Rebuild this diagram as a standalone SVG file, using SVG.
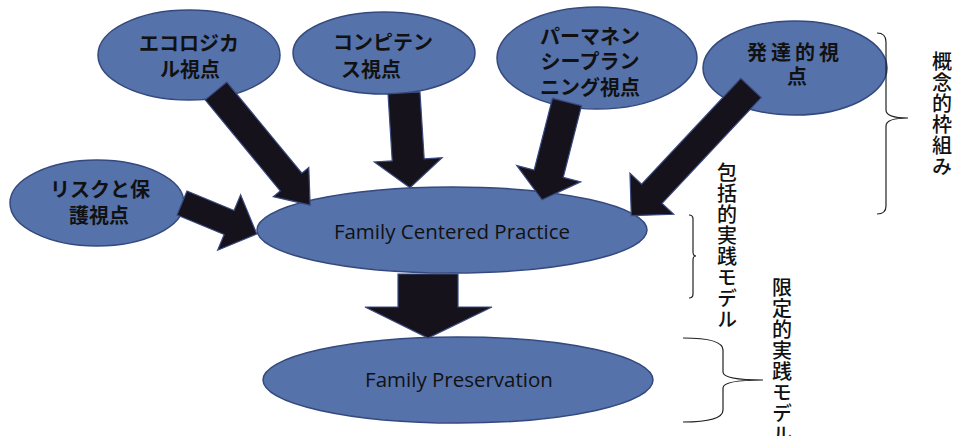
<svg xmlns="http://www.w3.org/2000/svg" width="955" height="436" viewBox="0 0 955 436">
  <style>
    .node { fill: #5672aa; stroke: #34497e; stroke-width: 1.5; }
    .jp { font-family: "Noto Sans CJK JP", "Noto Sans", sans-serif; font-size: 20px; font-weight: 700; fill: #111; text-anchor: middle; }
    .en { font-family: "Open Sans", "Liberation Sans", sans-serif; font-size: 20.5px; fill: #111; text-anchor: middle; }
    .arrow { fill: #15121c; stroke: #3a4a80; stroke-width: 1.2; stroke-linejoin: miter; }
    .brace { fill: none; stroke: #222; stroke-width: 1.2; }
    .vlabel { font-family: "Noto Sans CJK JP", "Noto Sans", sans-serif; font-size: 20px; font-weight: 500; fill: #111; writing-mode: vertical-rl; letter-spacing: 1px; }
  </style>

  <!-- nodes -->
  <g id="ecological">
    <ellipse class="node" cx="189" cy="55" rx="91" ry="45"/>
    <text class="jp" x="189" y="51">エコロジカ</text>
    <text class="jp" x="190" y="77">ル視点</text>
  </g>
  <g id="competence">
    <ellipse class="node" cx="384" cy="53" rx="91" ry="41"/>
    <text class="jp" x="383" y="50">コンピテン</text>
    <text class="jp" x="371" y="77">ス視点</text>
  </g>
  <g id="permanency">
    <ellipse class="node" cx="597" cy="58" rx="100" ry="51"/>
    <text class="jp" x="590" y="44">パーマネン</text>
    <text class="jp" x="590" y="69">シープラン</text>
    <text class="jp" x="590" y="95">ニング視点</text>
  </g>
  <g id="developmental">
    <ellipse class="node" cx="795" cy="68" rx="92" ry="47"/>
    <text class="jp" x="795" y="60" letter-spacing="4">発達的視</text>
    <text class="jp" x="797" y="84">点</text>
  </g>
  <g id="risk">
    <ellipse class="node" cx="97" cy="203" rx="87" ry="43"/>
    <text class="jp" x="100" y="197">リスクと保</text>
    <text class="jp" x="99" y="223">護視点</text>
  </g>
  <g id="fcp">
    <ellipse class="node" cx="452" cy="230" rx="195" ry="43"/>
    <text class="en" x="452" y="239">Family Centered Practice</text>
  </g>
  <g id="fp">
    <ellipse class="node" cx="458" cy="380" rx="195" ry="43"/>
    <text class="en" x="459" y="387">Family Preservation</text>
  </g>

  <!-- connectors: block arrows, drawn tail at origin pointing along +x -->
  <g id="connectors">
    <path class="arrow" transform="translate(216,91) rotate(50.5)" d="M0,-14 H118 V-23 L148,0 L118,23 V14 H0 Z"/>
    <path class="arrow" transform="translate(404,93) rotate(86.4)" d="M0,-16 H67 V-34 L95,0 L67,34 V16 H0 Z"/>
    <path class="arrow" transform="translate(567,102) rotate(104.3)" d="M0,-15 H74 V-33 L101,0 L74,33 V15 H0 Z"/>
    <path class="arrow" transform="translate(751,88) rotate(133.15)" d="M0,-14 H145 V-30 L175,0 L145,30 V14 H0 Z"/>
    <path class="arrow" transform="translate(182,203) rotate(22.5)" d="M0,-13 H51 V-30 L81,0 L51,30 V13 H0 Z"/>
    <path class="arrow" d="M398,274 H458 V307 H492 L428,338 L365,307 H398 Z"/>
  </g>

  <!-- braces and side labels -->
  <g id="framework">
    <path class="brace" d="M877,33 Q886,33 886,42 L886,110 Q886,118 908,118 Q886,118 886,126 L886,206 Q886,214 877,214"/>
    <text class="vlabel" x="942" y="51">概念的枠組み</text>
  </g>
  <g id="comprehensive">
    <path class="brace" d="M689,215 Q693,215 693,219 L693,252 Q693,256 696,256 Q693,256 693,260 L693,294 Q693,298 689,298"/>
    <text class="vlabel" x="727" y="162">包括的実践モデル</text>
  </g>
  <g id="limited">
    <path class="brace" d="M683,338 Q723,338 723,350 L723,372 Q723,380 763,380 Q723,380 723,388 L723,410 Q723,422 683,422"/>
    <text class="vlabel" x="782" y="277">限定的実践モデル</text>
  </g>
</svg>
